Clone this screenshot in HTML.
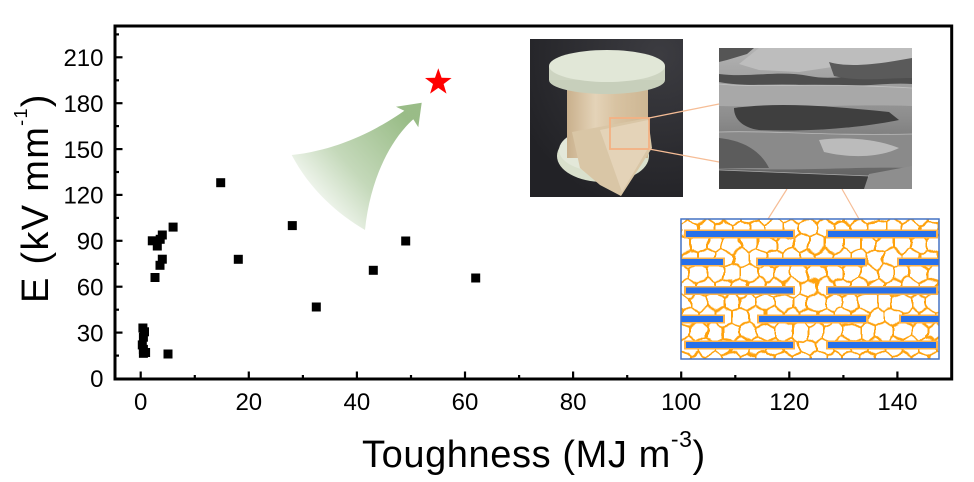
<!DOCTYPE html>
<html><head><meta charset="utf-8"><style>
html,body{margin:0;padding:0;background:#fff;}
svg{display:block;}
text{font-family:"Liberation Sans",Arial,sans-serif;fill:#000;}
</style></head><body>
<svg width="974" height="482" viewBox="0 0 974 482" xmlns="http://www.w3.org/2000/svg">
<defs>
  <linearGradient id="arrowGrad" gradientUnits="userSpaceOnUse" x1="305" y1="205" x2="405" y2="118">
    <stop offset="0" stop-color="#94b981" stop-opacity="0"/>
    <stop offset="0.45" stop-color="#94b981" stop-opacity="0.55"/>
    <stop offset="1" stop-color="#94b981" stop-opacity="0.95"/>
  </linearGradient>
  <radialGradient id="photoBg" cx="0.85" cy="0.1" r="1">
    <stop offset="0" stop-color="#3c3c41"/>
    <stop offset="1" stop-color="#222226"/>
  </radialGradient>
  <linearGradient id="bodyGrad" x1="0" y1="0" x2="1" y2="0">
    <stop offset="0" stop-color="#c9b08c"/>
    <stop offset="0.35" stop-color="#e4d3b8"/>
    <stop offset="0.6" stop-color="#d8c3a2"/>
    <stop offset="1" stop-color="#cdb693"/>
  </linearGradient>
  <linearGradient id="semBase" x1="0" y1="0" x2="0" y2="1">
    <stop offset="0" stop-color="#b3b3b3"/>
    <stop offset="0.5" stop-color="#8c8c8c"/>
    <stop offset="1" stop-color="#5a5a5a"/>
  </linearGradient>
  <clipPath id="photoClip"><rect x="530" y="39" width="153" height="158"/></clipPath>
  <clipPath id="semClip"><rect x="0" y="0" width="193" height="141"/></clipPath>
  <clipPath id="schClip"><rect x="681" y="219" width="258" height="140"/></clipPath>
  <pattern id="hex" patternUnits="userSpaceOnUse" width="17" height="29.4" x="681" y="219">
    <path d="M8.5,0 L17,4.9 L17,14.7 L8.5,19.6 L0,14.7 L0,4.9 Z M8.5,19.6 L8.5,29.4" fill="none" stroke="#ffa20f" stroke-width="2" stroke-linejoin="round"/>
  </pattern>
  <filter id="wob" filterUnits="userSpaceOnUse" x="660" y="200" width="300" height="180">
    <feTurbulence type="fractalNoise" baseFrequency="0.06" numOctaves="2" seed="5" result="n"/>
    <feDisplacementMap in="SourceGraphic" in2="n" scale="10" xChannelSelector="R" yChannelSelector="G"/>
  </filter>
</defs>

<!-- green arrow -->
<path d="M421.7,102.7 L396,106.7 L404.3,110.7 C380,128 340,150 291.7,155 C 310,190 338,214 365,230 C 370,180 390,140 413.3,119.3 L418.3,127.3 Z" fill="url(#arrowGrad)"/>

<!-- star -->
<polygon points="438.3,68.3 441.6,77.8 451.6,78.0 443.6,84.0 446.5,93.6 438.3,87.9 430.1,93.6 433.0,84.0 425.0,78.0 435.0,77.8" fill="#ff0000"/>

<!-- photo -->
<g clip-path="url(#photoClip)">
  <rect x="530" y="39" width="153" height="158" fill="url(#photoBg)"/>
  <ellipse cx="603" cy="156" rx="46" ry="26" fill="#d9e0cc"/>
  <ellipse cx="603" cy="150" rx="44" ry="22" fill="#e3e8d9"/>
  <rect x="567" y="82" width="81" height="76" fill="url(#bodyGrad)"/>
  <path d="M572,132 L648,118 L652,148 L621,196 L600,185 L580,168 Z" fill="#d9c6a6"/>
  <path d="M600,130 L648,120 L650,145 L622,192 Z" fill="#e6d6bd" opacity="0.8"/>
  <ellipse cx="607" cy="80" rx="58" ry="14" fill="#c7cfbb"/>
  <rect x="549" y="66" width="116" height="14" fill="#cdd4c1"/>
  <ellipse cx="607" cy="66" rx="58" ry="16" fill="#e1e7d7"/>
  <rect x="610" y="118" width="39" height="31" fill="none" stroke="#f4b183" stroke-width="1.8"/>
</g>

<!-- connectors -->
<g stroke="#f6bd96" stroke-width="1.2">
  <line x1="649" y1="118" x2="719" y2="104"/>
  <line x1="649" y1="149" x2="719" y2="162"/>
  <line x1="787" y1="189" x2="768" y2="219"/>
  <line x1="842" y1="189" x2="859" y2="219"/>
</g>

<!-- SEM image -->
<g transform="translate(719,48)">
  <g clip-path="url(#semClip)">
    <rect x="0" y="0" width="193" height="141" fill="url(#semBase)"/>
    <path d="M0,0 L35,0 L28,6 L8,12 L0,14 Z" fill="#555"/>
    <path d="M40,0 L193,0 L193,20 L160,22 L120,18 L80,24 L40,22 L20,16 Z" fill="#bdbdbd"/>
    <path d="M0,26 C30,30 60,22 90,28 C120,34 150,22 193,26 L193,36 C160,34 120,42 90,38 C60,34 30,40 0,34 Z" fill="#4e4e4e"/>
    <path d="M110,14 C130,20 160,16 193,10 L193,30 C165,30 140,34 115,28 Z" fill="#5a5a5a"/>
    <path d="M0,36 C40,40 90,34 193,40 L193,58 C140,56 80,60 0,58 Z" fill="#a8a8a8"/>
    <path d="M15,60 C60,54 110,58 170,64 L180,72 C140,80 90,84 40,82 C25,80 15,72 15,60 Z" fill="#3f3f3f"/>
    <path d="M0,84 C50,82 100,88 193,86 L193,120 C140,118 80,124 0,120 Z" fill="#8a8a8a"/>
    <path d="M0,90 C20,92 40,100 50,120 L0,120 Z" fill="#5c5c5c"/>
    <path d="M100,92 C130,88 160,92 180,100 C160,110 130,110 105,104 Z" fill="#bbbbbb"/>
    <path d="M0,122 C50,124 100,126 150,128 L193,124 L193,141 L0,141 Z" fill="#3d3d3d"/>
    <path d="M150,126 L193,118 L193,141 L145,141 Z" fill="#8e8e8e"/>
    <g stroke="#d0d0d0" stroke-width="0.8" fill="none" opacity="0.7">
      <path d="M0,36 C40,40 90,34 193,40"/>
      <path d="M0,84 C50,82 100,88 193,86"/>
      <path d="M0,122 C50,124 100,126 150,128"/>
    </g>
  </g>
</g>

<!-- schematic -->
<g clip-path="url(#schClip)">
  <rect x="681" y="219" width="258" height="140" fill="#ffffff"/>
  <g filter="url(#wob)">
    <rect x="665" y="205" width="290" height="170" fill="url(#hex)"/>
  </g>
  <g fill="#ffb347">
    <rect x="684" y="229.5" width="111" height="9"/>
    <rect x="826" y="229.5" width="112" height="9"/>
    <rect x="674" y="257.5" width="51" height="9"/>
    <rect x="756" y="257.5" width="111" height="9"/>
    <rect x="897" y="257.5" width="49" height="9"/>
    <rect x="684" y="286" width="111" height="9"/>
    <rect x="826" y="286" width="112" height="9"/>
    <rect x="674" y="314.5" width="51" height="9"/>
    <rect x="757" y="314.5" width="111" height="9"/>
    <rect x="899" y="314.5" width="47" height="9"/>
    <rect x="684" y="340.5" width="111" height="9"/>
    <rect x="826" y="340.5" width="112" height="9"/>
  </g>
  <g fill="#2770ea">
    <rect x="686" y="231" width="107" height="6"/>
    <rect x="828" y="231" width="108" height="6"/>
    <rect x="676" y="259" width="47" height="6"/>
    <rect x="758" y="259" width="107" height="6"/>
    <rect x="899" y="259" width="45" height="6"/>
    <rect x="686" y="287.5" width="107" height="6"/>
    <rect x="828" y="287.5" width="108" height="6"/>
    <rect x="676" y="316" width="47" height="6"/>
    <rect x="759" y="316" width="107" height="6"/>
    <rect x="901" y="316" width="43" height="6"/>
    <rect x="686" y="342" width="107" height="6"/>
    <rect x="828" y="342" width="108" height="6"/>
  </g>
</g>
<rect x="681" y="219" width="258" height="140" fill="none" stroke="#4472c4" stroke-width="1.5"/>

<!-- data points -->
<g fill="#000">
  <rect x="138.4" y="323.5" width="9" height="9"/>
  <rect x="140" y="327.3" width="9" height="9"/>
  <rect x="138.9" y="332.7" width="9" height="9"/>
  <rect x="137.8" y="340.4" width="9" height="9"/>
  <rect x="138.9" y="344.9" width="9" height="9"/>
  <rect x="141.1" y="348" width="9" height="9"/>
  <rect x="138.9" y="348.8" width="9" height="9"/>
  <rect x="163.5" y="349.5" width="9" height="9"/>
  <rect x="147.8" y="236.3" width="9" height="9"/>
  <rect x="152.8" y="241.5" width="9" height="9"/>
  <rect x="155.7" y="234.8" width="9" height="9"/>
  <rect x="157.8" y="230.5" width="9" height="9"/>
  <rect x="168.6" y="222.6" width="9" height="9"/>
  <rect x="157.8" y="254.7" width="9" height="9"/>
  <rect x="155.5" y="260.8" width="9" height="9"/>
  <rect x="150.5" y="273" width="9" height="9"/>
  <rect x="216.2" y="178.2" width="9" height="9"/>
  <rect x="233.8" y="254.8" width="9" height="9"/>
  <rect x="287.8" y="221.1" width="9" height="9"/>
  <rect x="401.2" y="236.5" width="9" height="9"/>
  <rect x="368.8" y="265.8" width="9" height="9"/>
  <rect x="471.2" y="273.5" width="9" height="9"/>
  <rect x="311.8" y="302.5" width="9" height="9"/>
</g>

<!-- axes frame -->
<rect x="115" y="26" width="836.7" height="353" fill="none" stroke="#000" stroke-width="3"/>

<!-- x ticks -->
<g stroke="#000" stroke-width="2.2">
  <line x1="140.7" y1="379" x2="140.7" y2="371.5"/>
  <line x1="248.8" y1="379" x2="248.8" y2="371.5"/>
  <line x1="356.9" y1="379" x2="356.9" y2="371.5"/>
  <line x1="465" y1="379" x2="465" y2="371.5"/>
  <line x1="573.1" y1="379" x2="573.1" y2="371.5"/>
  <line x1="681.2" y1="379" x2="681.2" y2="371.5"/>
  <line x1="789.3" y1="379" x2="789.3" y2="371.5"/>
  <line x1="897.4" y1="379" x2="897.4" y2="371.5"/>
  <line x1="194.8" y1="379" x2="194.8" y2="375"/>
  <line x1="302.9" y1="379" x2="302.9" y2="375"/>
  <line x1="411" y1="379" x2="411" y2="375"/>
  <line x1="519.1" y1="379" x2="519.1" y2="375"/>
  <line x1="627.2" y1="379" x2="627.2" y2="375"/>
  <line x1="735.3" y1="379" x2="735.3" y2="375"/>
  <line x1="843.4" y1="379" x2="843.4" y2="375"/>
</g>
<!-- y ticks -->
<g stroke="#000" stroke-width="2.2">
  <line x1="115" y1="332.6" x2="122.5" y2="332.6"/>
  <line x1="115" y1="286.7" x2="122.5" y2="286.7"/>
  <line x1="115" y1="240.8" x2="122.5" y2="240.8"/>
  <line x1="115" y1="194.9" x2="122.5" y2="194.9"/>
  <line x1="115" y1="149.1" x2="122.5" y2="149.1"/>
  <line x1="115" y1="103.2" x2="122.5" y2="103.2"/>
  <line x1="115" y1="57.3" x2="122.5" y2="57.3"/>
  <line x1="115" y1="355.6" x2="119" y2="355.6"/>
  <line x1="115" y1="309.7" x2="119" y2="309.7"/>
  <line x1="115" y1="263.8" x2="119" y2="263.8"/>
  <line x1="115" y1="217.9" x2="119" y2="217.9"/>
  <line x1="115" y1="172" x2="119" y2="172"/>
  <line x1="115" y1="126.1" x2="119" y2="126.1"/>
  <line x1="115" y1="80.3" x2="119" y2="80.3"/>
  <line x1="115" y1="34.4" x2="119" y2="34.4"/>
</g>

<!-- x tick labels -->
<g font-size="24" text-anchor="middle">
  <text x="140.7" y="410">0</text>
  <text x="248.8" y="410">20</text>
  <text x="356.9" y="410">40</text>
  <text x="465" y="410">60</text>
  <text x="573.1" y="410">80</text>
  <text x="681.2" y="410">100</text>
  <text x="789.3" y="410">120</text>
  <text x="897.4" y="410">140</text>
</g>
<!-- y tick labels -->
<g font-size="24" text-anchor="end">
  <text x="103.5" y="387.2">0</text>
  <text x="103.5" y="341.3">30</text>
  <text x="103.5" y="295.4">60</text>
  <text x="103.5" y="249.5">90</text>
  <text x="103.5" y="203.6">120</text>
  <text x="103.5" y="157.8">150</text>
  <text x="103.5" y="111.9">180</text>
  <text x="103.5" y="66">210</text>
</g>

<!-- axis titles -->
<text x="362" y="467" font-size="38" letter-spacing="0.6">Toughness (MJ m<tspan font-size="23" dy="-20">-3</tspan><tspan dy="20">)</tspan></text>
<text transform="translate(48,303) rotate(-90)" font-size="38" letter-spacing="1.3">E (kV mm<tspan font-size="18" dy="-21">-1</tspan><tspan dy="21">)</tspan></text>
</svg>
</body></html>
